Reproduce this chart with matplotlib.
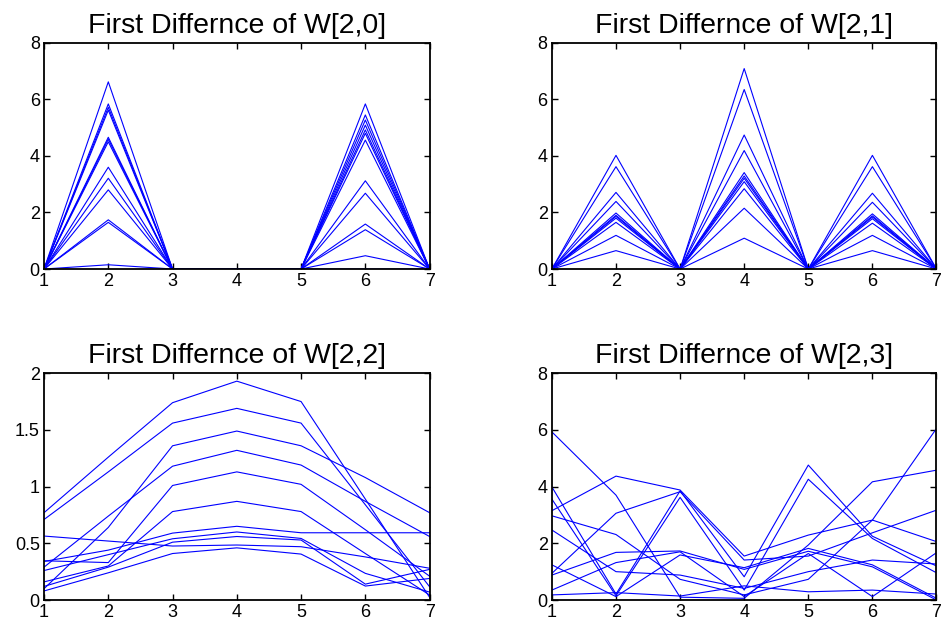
import matplotlib
matplotlib.use("Agg")
import matplotlib.pyplot as plt

plt.rcParams['font.family'] = ['Liberation Sans', 'DejaVu Sans']

steps = [1, 2, 3, 4, 5, 6, 7]

# W[2,0]: peaks at step 2 and step 6, zero elsewhere
w20_peak2 = [6.62, 5.84, 5.72, 5.62, 4.66, 4.59, 4.50, 3.60, 3.21, 2.80, 1.74, 1.65, 0.15, 0.0]
w20_peak6 = [5.84, 5.45, 5.27, 5.09, 4.92, 4.80, 4.56, 3.12, 2.68, 1.59, 1.39, 0.47, 0.0, 0.0]

# W[2,1]: peaks at steps 2, 4, 6
w21_peak2 = [4.02, 3.62, 2.71, 2.39, 1.98, 1.90, 1.86, 1.80, 1.65, 1.19, 0.65]
w21_peak4 = [7.09, 6.35, 4.74, 4.19, 3.41, 3.29, 3.21, 3.09, 2.84, 2.15, 1.09]
w21_peak6 = [4.02, 3.62, 2.68, 2.36, 1.95, 1.88, 1.84, 1.78, 1.62, 1.19, 0.65]

# W[2,2]: one row per line, values at steps 1..7
w22 = [
    [0.77, 1.26, 1.74, 1.93, 1.75, 0.89, 0.024],
    [0.71, 1.13, 1.56, 1.69, 1.56, 0.84, 0.117],
    [0.29, 0.74, 1.18, 1.32, 1.19, 0.87, 0.56],
    [0.10, 0.64, 1.36, 1.49, 1.36, 1.08, 0.77],
    [0.346, 0.33, 1.01, 1.13, 1.02, 0.62, 0.21],
    [0.16, 0.30, 0.78, 0.87, 0.78, 0.41, 0.044],
    [0.34, 0.44, 0.59, 0.65, 0.593, 0.593, 0.593],
    [0.26, 0.40, 0.54, 0.60, 0.543, 0.235, 0.07],
    [0.12, 0.29, 0.51, 0.56, 0.529, 0.14, 0.27],
    [0.564, 0.52, 0.476, 0.485, 0.47, 0.38, 0.28],
    [0.08, 0.24, 0.41, 0.46, 0.405, 0.123, 0.19],
]

# W[2,3]: one row per line, values at steps 1..7
w23 = [
    [5.93, 3.70, 0.10, 0.06, 1.94, 4.17, 4.58],
    [3.15, 4.37, 3.88, 1.55, 2.29, 2.82, 2.06],
    [0.94, 3.06, 3.82, 1.41, 1.55, 2.37, 3.17],
    [3.99, 0.21, 3.85, 0.82, 4.76, 2.25, 1.20],
    [3.56, 0.15, 3.62, 0.35, 4.26, 2.17, 0.96],
    [2.97, 2.31, 0.73, 0.18, 0.73, 2.82, 6.05],
    [2.47, 1.00, 0.88, 0.41, 1.00, 1.41, 1.27],
    [1.24, 0.12, 1.59, 1.14, 1.82, 1.24, 0.06],
    [0.88, 1.68, 1.73, 1.08, 1.72, 1.17, 0.00],
    [0.35, 1.32, 1.70, 0.12, 1.64, 0.12, 1.67],
    [0.18, 0.26, 0.14, 0.50, 0.29, 0.35, 0.21],
]

titles = ["First Differnce of W[2,0]", "First Differnce of W[2,1]",
          "First Differnce of W[2,2]", "First Differnce of W[2,3]"]

w20 = [[0, a, 0, 0, 0, b, 0] for a, b in zip(w20_peak2, w20_peak6)]
w21 = [[0, a, 0, b, 0, c, 0] for a, b, c in zip(w21_peak2, w21_peak4, w21_peak6)]

fig = plt.figure(figsize=(9.45, 6.3), dpi=100)
boxes = [
    [0.0466, 0.573, 0.408, 0.359],
    [0.584, 0.573, 0.407, 0.359],
    [0.0466, 0.0476, 0.408, 0.360],
    [0.584, 0.0476, 0.407, 0.360],
]
datasets = [w20, w21, w22, w23]
ylims = [(0, 8), (0, 8), (0, 2), (0, 8)]
yticks = [[0, 2, 4, 6, 8], [0, 2, 4, 6, 8], [0, 0.5, 1, 1.5, 2], [0, 2, 4, 6, 8]]

for box, data, title, ylim, yt in zip(boxes, datasets, titles, ylims, yticks):
    ax = fig.add_axes(box)
    for row in data:
        ax.plot(steps, row, color=(0, 0, 1), linewidth=0.8)
    ax.set_xlim(1, 7)
    ax.set_ylim(*ylim)
    ax.set_xticks(steps)
    ax.set_yticks(yt)
    ax.set_yticklabels([f"{v:g}" for v in yt])
    ax.set_title(title, fontsize=20.5, pad=7)
    ax.tick_params(direction='in', top=True, right=True, labelsize=13,
                   length=4, width=1, pad=3)
    for s in ax.spines.values():
        s.set_linewidth(1.3)

plt.savefig("out.png", dpi=100)
plt.close()
